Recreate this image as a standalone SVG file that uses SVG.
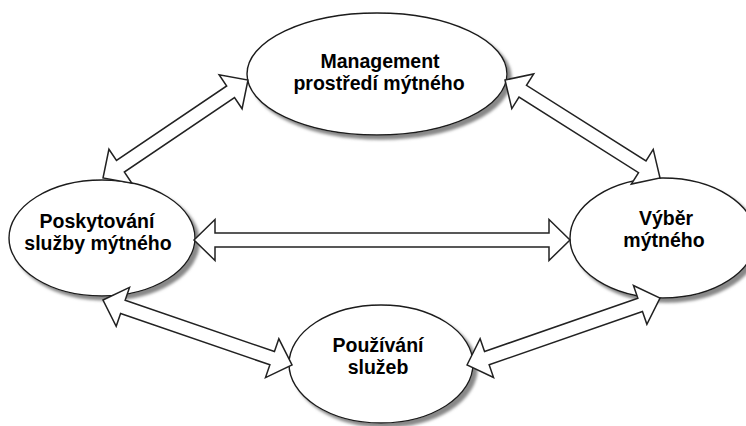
<svg xmlns="http://www.w3.org/2000/svg" width="746" height="426" viewBox="0 0 746 426">
<style>
.node{fill:#fff;stroke:#1a1a1a;stroke-width:1.4;filter:url(#sh)}
.lbl{font-family:"Liberation Sans",Arial,sans-serif;font-weight:bold;font-size:19.5px;fill:#000;text-anchor:middle}
.arr{fill:#fff;stroke:#222;stroke-width:1.5;stroke-linejoin:miter}
</style>
<defs>
<filter id="sh" x="-10%" y="-10%" width="125%" height="130%">
<feGaussianBlur in="SourceAlpha" stdDeviation="1.5" result="b"/>
<feOffset in="b" dx="4" dy="4" result="o"/>
<feFlood flood-color="#888" result="f"/>
<feComposite in="f" in2="o" operator="in" result="s"/>
<feMerge><feMergeNode in="s"/><feMergeNode in="SourceGraphic"/></feMerge>
</filter>
</defs>
<rect width="746" height="426" fill="#fff"/>
<g id="management">
<ellipse class="node" cx="377" cy="74" rx="130" ry="61"/>
<text class="lbl" x="380" y="68">Management</text>
<text class="lbl" x="379" y="90">prostředí mýtného</text>
</g>
<g id="poskytovani">
<ellipse class="node" cx="102" cy="238" rx="93" ry="58"/>
<text class="lbl" x="97" y="228">Poskytování</text>
<text class="lbl" x="98" y="250">služby mýtného</text>
</g>
<g id="vyber">
<ellipse class="node" cx="663" cy="238" rx="93" ry="60"/>
<text class="lbl" x="666" y="225">Výběr</text>
<text class="lbl" x="664" y="247">mýtného</text>
</g>
<g id="pouzivani">
<ellipse class="node" cx="381" cy="364" rx="92" ry="59"/>
<text class="lbl" x="378" y="352">Používání</text>
<text class="lbl" x="378" y="374">služeb</text>
</g>
<g id="connectors">
<g transform="translate(194,240)">
<polygon class="arr" points="0,0 21,-20.5 21,-7 355,-7 355,-20.5 376,0 355,20.5 355,7 21,7 21,20.5"/>
</g>
<g transform="translate(103,178) rotate(-34.05)">
<polygon class="arr" points="0,0 21,-20.5 21,-7 154,-7 154,-20.5 175,0 154,20.5 154,7 21,7 21,20.5"/>
</g>
<g transform="translate(505,80) rotate(32.3)">
<polygon class="arr" points="0,0 21,-20.5 21,-7 162.4,-7 162.4,-20.5 183.4,0 162.4,20.5 162.4,7 21,7 21,20.5"/>
</g>
<g transform="translate(103,300) rotate(18.98)">
<polygon class="arr" points="0,0 21,-20.5 21,-7 178.9,-7 178.9,-20.5 199.9,0 178.9,20.5 178.9,7 21,7 21,20.5"/>
</g>
<g transform="translate(467,365) rotate(-19.14)">
<polygon class="arr" points="0,0 21,-20.5 21,-7 183.3,-7 183.3,-20.5 204.3,0 183.3,20.5 183.3,7 21,7 21,20.5"/>
</g>
</g>
</svg>
